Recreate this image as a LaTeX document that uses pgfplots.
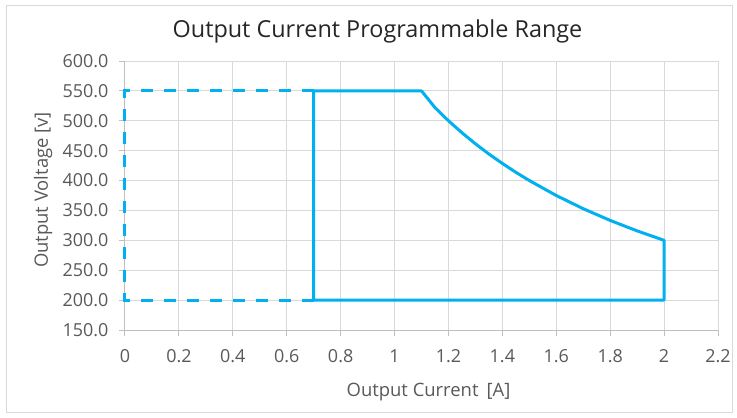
\documentclass[border=0pt]{standalone}
\usepackage{pgfplots}
\pgfplotsset{compat=1.18}
\usepackage{fontspec}
\setmainfont{Open Sans}
\definecolor{lineblue}{HTML}{00B0F0}
\definecolor{gridgray}{HTML}{D9D9D9}
\definecolor{axgray}{HTML}{BFBFBF}
\definecolor{txtgray}{HTML}{595959}
\definecolor{titlec}{HTML}{262626}
\begin{document}
\begin{tikzpicture}[x=1bp,y=1bp]
\useasboundingbox (-125,-87) rectangle (612,330);
\draw[color=gridgray, line width=1bp] (-118,325) rectangle (607,-82);
\begin{axis}[
  at={(0,0)}, anchor=south west,
  scale only axis, width=593bp, height=269bp,
  xmin=0, xmax=2.2, ymin=150, ymax=600,
  xtick={0,0.2,...,2.21}, ytick={150,200,...,600},
  xticklabels={0,0.2,0.4,0.6,0.8,1,1.2,1.4,1.6,1.8,2,2.2},
  yticklabel style={/pgf/number format/fixed, /pgf/number format/fixed zerofill, /pgf/number format/precision=1, /pgf/number format/1000 sep={}},
  /pgf/number format/assume math mode=true,
  axis x line*=bottom, axis y line*=left,
  axis line style={color=axgray, line width=1bp, -},
  grid=major, major grid style={color=gridgray, line width=1bp},
  tick align=outside, major tick length=6bp,
  tick style={color=axgray, line width=1bp},
  ticklabel style={font=\fontsize{18}{20}\selectfont, text=txtgray},
  xticklabel style={yshift=-10bp},
  yticklabel style={xshift=-7bp},
  xlabel={Output Current\hspace{8bp}[A]},
  ylabel={Output Voltage [v]},
  label style={font=\fontsize{18.5}{20}\selectfont, text=txtgray},
  xlabel style={at={(303.5bp,-62bp)}, anchor=center},
  ylabel style={at={(-82bp,140bp)}, anchor=center},
  title={Output Current Programmable Range},
  title style={font=\fontsize{23.5}{28}\selectfont, text=titlec, at={(252.5bp,293bp)}, anchor=center},
  clip=false,
]
\addplot[color=lineblue, line width=3bp, line join=round] coordinates {
 (0.7,200) (0.7,550) (1.1,550) (1.15,522) (1.2,500) (1.25,480) (1.3,461.5)
 (1.35,444.4) (1.4,428.6) (1.45,413.8) (1.5,400) (1.6,375) (1.7,352.9)
 (1.8,333.3) (1.9,315.8) (2.0,300) (2.0,200) (0.7,200)
};
\addplot[color=lineblue, line width=3bp, dash pattern=on 12bp off 11bp] coordinates {
 (0.7,550) (0,550) (0,200) (0.7,200)
};
\end{axis}
\end{tikzpicture}
\end{document}
